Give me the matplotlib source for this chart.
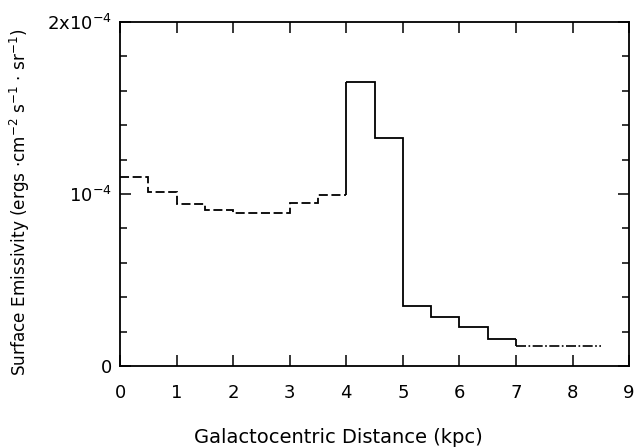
import matplotlib.pyplot as plt
import numpy as np
from matplotlib.ticker import MultipleLocator

plt.rcParams['font.family'] = ['DejaVu Sans']
plt.rcParams['mathtext.fontset'] = 'dejavusans'

# bin edges (kpc) and surface emissivity per bin
edges = [0, 0.5, 1, 1.5, 2, 3, 3.5, 4, 4.5, 5, 5.5, 6, 6.5, 7, 8.5]
emiss = [1.10e-4, 1.013e-4, 0.940e-4, 0.905e-4, 0.889e-4, 0.948e-4, 0.996e-4,
         1.653e-4, 1.327e-4, 0.349e-4, 0.287e-4, 0.229e-4, 0.159e-4, 0.118e-4]

ytick_pos = [0, 1e-4, 2e-4]
ytick_lab = ['0', r'10$^{-4}$', r'2x10$^{-4}$']

fig = plt.figure(figsize=(6.4, 4.47), dpi=100)
ax = fig.add_axes([0.1875, 0.181, 0.7955, 0.770])

# inner region (0-4 kpc) dashed
ax.stairs(emiss[:7], edges[:8], baseline=None, color='k', lw=1.3, ls=(0, (5, 2)))
# 4-7 kpc solid, with the jump at 4 kpc
ax.vlines(edges[7], emiss[6], emiss[7], color='k', lw=1.3)
ax.stairs(emiss[7:13], edges[7:14], baseline=None, color='k', lw=1.3)
ax.vlines(edges[13], emiss[13], emiss[12], color='k', lw=1.3)
# outer bin dash-dot-ish
ax.stairs(emiss[13:], edges[13:], baseline=None, color='k', lw=1.2, ls=(0, (6, 1.5, 1, 1.5)))

ax.set_xlim(0, 9)
ax.set_ylim(0, 2e-4)
ax.xaxis.set_major_locator(MultipleLocator(1))
ax.set_yticks(ytick_pos)
ax.set_yticklabels(ytick_lab)
ax.yaxis.set_minor_locator(MultipleLocator(2e-5))

ax.tick_params(which='both', direction='in', top=True, right=True, labelsize=13, width=1.1)
ax.tick_params(which='major', length=8)
ax.tick_params(which='minor', length=5)
ax.tick_params(axis='x', pad=13)
ax.tick_params(axis='y', pad=6)
for s in ax.spines.values():
    s.set_linewidth(1.3)

ax.set_xlabel('Galactocentric Distance (kpc)', fontsize=14)
ax.xaxis.set_label_coords(0.428, -0.18)
ax.set_ylabel(r'Surface Emissivity (ergs $\cdot$cm$^{-2}$ s$^{-1}$ $\cdot$ sr$^{-1}$)',
              fontsize=12.2)
ax.yaxis.set_label_coords(-0.172, 0.477)

plt.savefig('out.png', dpi=100)
